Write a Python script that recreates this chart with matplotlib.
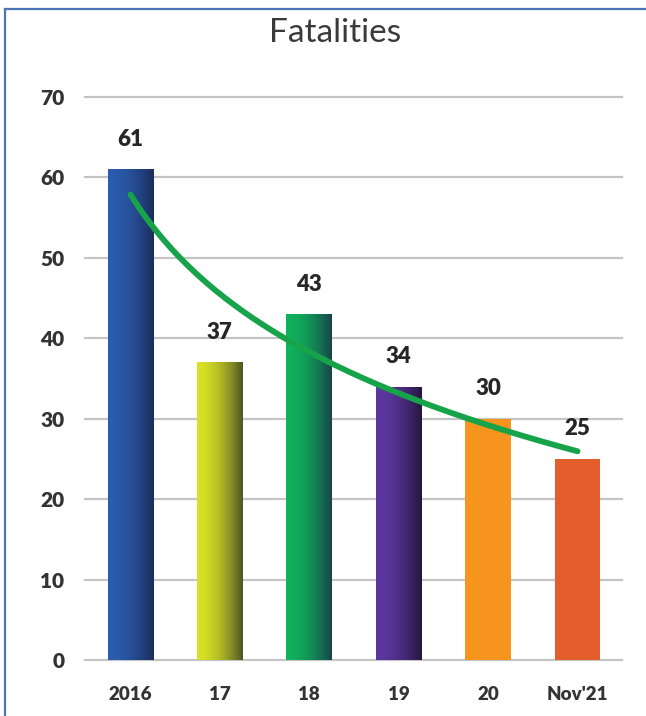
import numpy as np
import matplotlib
matplotlib.use("Agg")
import matplotlib.pyplot as plt
from matplotlib.colors import LinearSegmentedColormap
from matplotlib.lines import Line2D

plt.rcParams['font.family'] = ['Lato', 'DejaVu Sans']

# Data
categories = ['2016', '17', '18', '19', '20', "Nov'21"]
fatalities = [61, 37, 43, 34, 30, 25]

# Left -> right shading of each bar (same colour twice = flat fill)
bar_shades = [
    ('#2b5caf', '#1b2d5a'),
    ('#d9e125', '#4c5426'),
    ('#10b25c', '#19434a'),
    ('#5c37a2', '#26163c'),
    ('#f7941d', '#f7941d'),
    ('#e35e2a', '#e35e2a'),
]

W, H = 646, 716
fig = plt.figure(figsize=(W / 100, H / 100), dpi=100)
fig.patch.set_facecolor('white')

# axes box in pixel terms: x 85..622, y(0)=660, y(70)=97
ax = fig.add_axes([85 / W, (H - 660) / H, (622 - 85) / W, (660 - 97) / H])
ax.set_xlim(-0.508, 5.497)
ax.set_ylim(0, 70)

x = np.arange(len(categories))
bars = ax.bar(x, fatalities, width=0.51, zorder=3, linewidth=0)

# gradient fill for each bar, clipped to the bar rectangle
ramp = np.linspace(0, 1, 256) ** 1.8
for rect, (c0, c1) in zip(bars, bar_shades):
    if c0 == c1:
        rect.set_facecolor(c0)
        continue
    rect.set_facecolor('none')
    cmap = LinearSegmentedColormap.from_list('shade', [c0, c1])
    x0, w, h = rect.get_x(), rect.get_width(), rect.get_height()
    im = ax.imshow(ramp[np.newaxis, :], cmap=cmap, aspect='auto',
                   extent=[x0, x0 + w, 0, h], zorder=3, interpolation='bilinear')
    im.set_clip_path(rect)

# value labels above bars
for xi, v in zip(x, fatalities):
    ax.annotate(str(v), (xi, v), xytext=(0, 14), textcoords='offset points',
                ha='center', va='bottom', fontsize=16, fontweight='heavy',
                color='#262626', zorder=5)

# logarithmic trend line fitted to the values (Excel-style)
xn = x + 1
b, a = np.polyfit(np.log(xn), fatalities, 1)
xs = np.linspace(1, len(categories), 200)
ax.plot(xs - 1, a + b * np.log(xs), color='#17a34a', lw=4.2,
        solid_capstyle='round', zorder=4)

# horizontal gridlines
ax.set_yticks(np.arange(0, 71, 10))
for yv in np.arange(0, 71, 10):
    ax.axhline(yv, color='#c4c4c4', lw=1.6, zorder=1, clip_on=False)

ax.set_xticks(x)
ax.set_xticklabels(categories)
ax.tick_params(axis='both', length=0)
ax.tick_params(axis='y', pad=15, labelsize=15, labelcolor='#333333')
ax.tick_params(axis='x', pad=19, labelsize=13.5, labelcolor='#333333')
for lbl in ax.get_xticklabels() + ax.get_yticklabels():
    lbl.set_fontweight('heavy')

for s in ax.spines.values():
    s.set_visible(False)
ax.set_facecolor('none')

fig.text(335 / W, 1 - 33 / H, 'Fatalities', ha='center', va='center',
         fontsize=24, color='#3a3a3a')

# blue frame on the left and top edges
fig.add_artist(Line2D([5 / W, 5 / W], [0, 1 - 9 / H], color='#4a76b5', lw=1.6))
fig.add_artist(Line2D([5 / W, 1], [1 - 9 / H, 1 - 9 / H], color='#4a76b5', lw=1.6))

fig.savefig('out.png', dpi=100)
